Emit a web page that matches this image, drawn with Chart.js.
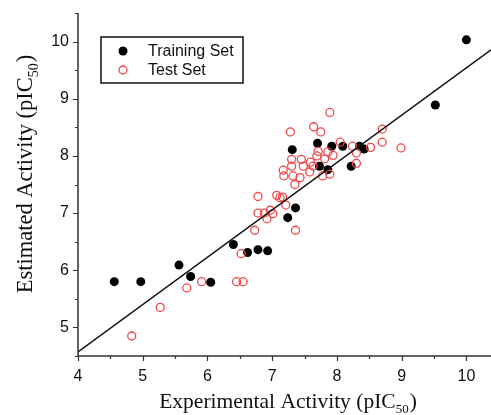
<!DOCTYPE html>
<html>
<head>
<meta charset="utf-8">
<script src="https://cdn.jsdelivr.net/npm/chart.js@4"></script>
<style>
  html, body { margin: 0; padding: 0; background: #fff; }
  #wrap { width: 491px; height: 415px; position: relative; }
</style>
</head>
<body>
<div id="wrap"><canvas id="chart"></canvas></div>
<script>
/* values */
const trainX = [4.56, 4.97, 5.56, 5.74, 6.05, 6.40, 6.62, 6.78, 6.93, 7.24, 7.36,
                7.31, 7.70, 7.92, 8.09, 8.35, 8.42, 7.73, 7.86, 8.22, 9.52, 10.0];
const trainY = [5.80, 5.80, 6.09, 5.89, 5.79, 6.45, 6.31, 6.36, 6.34, 6.92, 7.09,
                8.11, 8.22, 8.17, 8.17, 8.17, 8.12, 7.82, 7.76, 7.82, 8.89, 10.03];

const testX = [4.83, 5.27, 5.68, 5.91, 6.45, 6.55, 6.52, 6.73, 6.78, 6.78, 6.88, 6.92,
               6.97, 7.01, 7.07, 7.12, 7.16, 7.21, 7.36, 7.35, 7.89, 7.28, 7.64, 7.75,
               8.05, 8.24, 8.70, 8.70, 8.52, 8.99, 8.30, 8.30, 7.71, 7.86, 7.94, 7.81,
               7.69, 7.45, 7.59, 7.30, 7.30, 7.48, 7.63, 7.17, 7.18, 7.32, 7.43, 7.58,
               7.78, 7.89];
const testY = [4.85, 5.35, 5.69, 5.80, 5.80, 5.80, 6.29, 6.70, 7.29, 7.00, 7.00, 6.90,
               7.05, 6.99, 7.31, 7.27, 7.28, 7.14, 6.70, 7.50, 8.76, 8.42, 8.51, 8.42,
               8.24, 8.17, 8.47, 8.24, 8.15, 8.14, 8.05, 7.87, 8.08, 8.07, 8.01, 7.95,
               8.00, 7.94, 7.89, 7.94, 7.82, 7.82, 7.82, 7.75, 7.65, 7.65, 7.62, 7.72,
               7.65, 7.68];

const xTicks = [4, 5, 6, 7, 8, 9, 10];
const yTicks = [5, 6, 7, 8, 9, 10];
const xRange = [4, 10.38];
const yRange = [4.5, 10.5];

// regression line y = a*x + b
const fitSlope = 0.828;
const fitIntercept = 1.26;

const pts = (xs, ys) => xs.map((x, i) => ({ x, y: ys[i] }));
const fitLine = xRange.map(x => ({ x, y: fitSlope * x + fitIntercept }));

const RED = "rgb(240,72,72)";
const AXIS = "#333";

/* ---------- axes, ticks, titles and legend drawn by hand ---------- */
const decor = {
  id: "decor",
  afterDraw(chart) {
    const { ctx, chartArea: a, scales: { x, y } } = chart;
    ctx.save();
    ctx.strokeStyle = AXIS;
    ctx.lineWidth = 1.5;
    ctx.beginPath();
    ctx.moveTo(a.left, a.top);
    ctx.lineTo(a.left, a.bottom);
    ctx.lineTo(a.right, a.bottom);
    ctx.stroke();

    ctx.lineWidth = 1.2;
    ctx.beginPath();
    for (let v = 4; v <= xRange[1]; v += 0.5) {
      const px = Math.round(x.getPixelForValue(v)) + 0.5;
      const len = Number.isInteger(v) ? 5 : 3;
      ctx.moveTo(px, a.bottom);
      ctx.lineTo(px, a.bottom + len);
    }
    for (let v = 4.5; v <= yRange[1]; v += 0.5) {
      const py = Math.round(y.getPixelForValue(v)) + 0.5;
      const len = Number.isInteger(v) ? 5 : 3;
      ctx.moveTo(a.left, py);
      ctx.lineTo(a.left - len, py);
    }
    ctx.stroke();

    // axis titles with subscript
    ctx.fillStyle = "#111";
    const title = (label, cx, cy, size) => {
      const big = size + "px 'Liberation Serif', 'Times New Roman', serif";
      const small = Math.round(size * 0.62) + "px 'Liberation Serif', 'Times New Roman', serif";
      ctx.font = big;
      const w1 = ctx.measureText(label + " (pIC").width;
      const w3 = ctx.measureText(")").width;
      ctx.font = small;
      const w2 = ctx.measureText("50").width + 1;
      const sx = cx - (w1 + w2 + w3) / 2;
      ctx.textBaseline = "alphabetic";
      ctx.textAlign = "left";
      ctx.font = big;
      ctx.fillText(label + " (pIC", sx, cy);
      ctx.font = small;
      ctx.fillText("50", sx + w1, cy + size * 0.25);
      ctx.font = big;
      ctx.fillText(")", sx + w1 + w2, cy);
    };
    title("Experimental Activity", 288, 408, 21.5);
    ctx.save();
    ctx.translate(32, 174);
    ctx.rotate(-Math.PI / 2);
    title("Estimated Activity", 0, 0, 22.5);
    ctx.restore();

    // legend
    const lx = 101, ly = 37, lw = 142, lh = 46;
    ctx.fillStyle = "#fff";
    ctx.fillRect(lx, ly, lw, lh);
    ctx.strokeStyle = "#111";
    ctx.lineWidth = 1.5;
    ctx.strokeRect(lx, ly, lw, lh);
    ctx.fillStyle = "#000";
    ctx.beginPath();
    ctx.arc(123, 51, 4.5, 0, Math.PI * 2);
    ctx.fill();
    ctx.strokeStyle = RED;
    ctx.lineWidth = 1.3;
    ctx.beginPath();
    ctx.arc(123, 70, 4, 0, Math.PI * 2);
    ctx.stroke();
    ctx.fillStyle = "#111";
    ctx.font = "16px 'Liberation Sans', Arial, sans-serif";
    ctx.textBaseline = "middle";
    ctx.fillText("Training Set", 148, 52);
    ctx.fillText("Test Set", 148, 71);
    ctx.restore();
  }
};

const tickFont = { family: "'Liberation Sans', Arial, sans-serif", size: 16 };

new Chart(document.getElementById("chart"), {
  type: "scatter",
  data: {
    datasets: [
      {
        label: "Fit",
        type: "line",
        data: fitLine,
        borderColor: "#111",
        borderWidth: 1.5,
        pointRadius: 0,
        order: 0
      },
      {
        label: "Test Set",
        data: pts(testX, testY),
        pointRadius: 4,
        pointBorderWidth: 1.3,
        pointBorderColor: RED,
        pointBackgroundColor: "rgba(255,255,255,0)",
        order: 1
      },
      {
        label: "Training Set",
        data: pts(trainX, trainY),
        pointRadius: 4.5,
        pointBorderWidth: 0,
        pointBackgroundColor: "#000",
        pointBorderColor: "#000",
        order: 2
      }
    ]
  },
  options: {
    responsive: true,
    maintainAspectRatio: false,
    animation: false,
    layout: { autoPadding: false, padding: { top: 13, right: 0, left: 0, bottom: 0 } },
    plugins: { legend: { display: false }, tooltip: { enabled: false } },
    scales: {
      x: {
        type: "linear",
        min: xRange[0],
        max: xRange[1],
        afterBuildTicks: s => { s.ticks = xTicks.map(value => ({ value })); },
        afterFit: s => { s.height = 59; s.paddingLeft = 0; s.paddingRight = 0; },
        grid: { display: false, drawTicks: false },
        border: { display: false },
        ticks: { color: "#111", font: tickFont, padding: 11, maxRotation: 0, autoSkip: false }
      },
      y: {
        type: "linear",
        min: yRange[0],
        max: yRange[1],
        afterBuildTicks: s => { s.ticks = yTicks.map(value => ({ value })); },
        afterFit: s => { s.width = 78; s.paddingTop = 0; s.paddingBottom = 0; },
        grid: { display: false, drawTicks: false },
        border: { display: false },
        ticks: { color: "#111", font: tickFont, padding: 9, autoSkip: false }
      }
    }
  },
  plugins: [decor]
});
</script>
</body>
</html>
